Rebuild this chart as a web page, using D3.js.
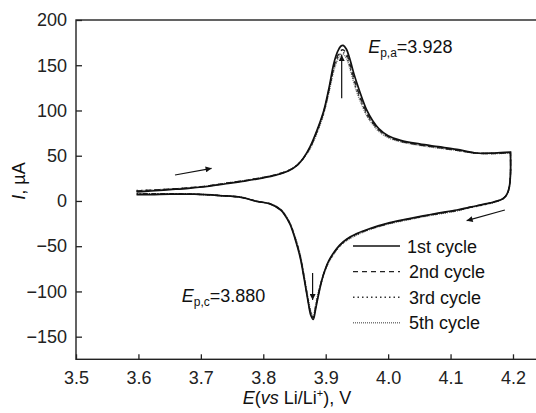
<!DOCTYPE html>
<html>
<head>
<meta charset="utf-8">
<script src="https://cdn.jsdelivr.net/npm/d3@7"></script>
<style>
  body { margin: 0; background: #fff; }
  svg { display: block; }
</style>
</head>
<body>
<svg id="chart" width="536" height="413"></svg>
<script>
// potentials sampled on the anodic (forward) and cathodic (reverse) sweeps, V
const anodicE = [3.597, 3.62, 3.65, 3.68, 3.71, 3.74, 3.77, 3.80, 3.82, 3.84, 3.855, 3.865, 3.875, 3.886, 3.897, 3.905, 3.913, 3.919, 3.924, 3.928, 3.933, 3.939, 3.945, 3.950, 3.958, 3.966, 3.975, 3.985, 4.00, 4.02, 4.05, 4.08, 4.11, 4.14, 4.17, 4.196];
const cathodicE = [4.196, 4.196, 4.194, 4.19, 4.184, 4.17, 4.158, 4.13, 4.11, 4.08, 4.056, 4.03, 4.003, 3.971, 3.95, 3.934, 3.922, 3.913, 3.905, 3.899, 3.894, 3.889, 3.884, 3.880, 3.876, 3.872, 3.866, 3.859, 3.851, 3.843, 3.835, 3.828, 3.81, 3.79, 3.765, 3.73, 3.69, 3.65, 3.62, 3.597];

// current, µA
const cycle1Anodic = [10, 11, 12.5, 14, 16, 19, 22, 25.5, 28.5, 33, 40, 48, 60, 78, 100, 124, 152, 165, 171, 172, 168, 156, 141, 130, 114, 100, 89, 80, 72, 67, 63, 60, 57, 53, 53, 54];
const cycle2Anodic = [11, 12, 13, 14.5, 16.5, 19.5, 22.5, 26, 29, 33.5, 40, 48, 59, 77, 99, 122, 148, 160, 166, 167, 163, 151, 136, 125, 110, 97, 87, 79, 71, 66, 62, 59, 56, 53, 52.5, 53.5];
const cycle3Anodic = [11.5, 12, 13, 14.5, 16.5, 19.5, 22.5, 26, 29, 33.5, 40, 48, 59, 76, 98, 121, 146, 158, 163, 164, 160, 148, 133, 122, 108, 95, 86, 78, 71, 66, 62, 59, 56, 53, 52.5, 53.5];
const cycle5Anodic = [11, 12, 13, 14.5, 16.5, 19.5, 22.5, 26, 29, 33.5, 40, 48, 58, 75, 97, 120, 144, 156, 161, 162, 158, 146, 131, 120, 106, 94, 85, 77, 70, 65.5, 61.5, 58.5, 56, 53, 52.5, 53];

const cycle1Cathodic = [54, 30, 15, 7, 2.5, -1, -3, -7, -10, -13.5, -16.5, -20, -24, -30.5, -36, -42, -49, -57, -66, -76, -87, -102, -119, -131, -126, -112, -88, -62, -42, -26, -16, -10, -3, -0.5, 4, 6, 7.5, 7.5, 7, 7];
const cycle2Cathodic = [53.5, 30, 15, 7, 2.5, -1, -3, -7, -10.5, -14, -17, -20.5, -24.5, -31, -36.5, -42.5, -49.5, -57.5, -66.5, -76, -87, -101, -117, -129, -124, -111, -87, -61, -41, -25.5, -16, -10, -3, -0.5, 4, 6, 7.5, 8, 8, 8];
const cycle3Cathodic = [53.5, 30, 15, 7, 2.5, -1, -3.5, -7.5, -10.5, -14, -17, -20.5, -24.5, -31, -37, -43, -50, -58, -67, -76.5, -87, -100, -116, -128, -123, -110, -86, -60, -40.5, -25, -15.5, -9.5, -3, -0.5, 4, 6, 7.5, 8, 8, 8];
const cycle5Cathodic = [53, 30, 15, 7, 2.5, -1.5, -3.5, -7.5, -11, -14.5, -17.5, -21, -25, -31.5, -37.5, -43.5, -50.5, -58.5, -67.5, -77, -87, -99, -115, -127, -122, -109, -85, -59, -40, -25, -15.5, -9.5, -3, -0.5, 4, 6, 7.5, 8, 8, 8];

const cycleNames = ["1st cycle", "2nd cycle", "3rd cycle", "5th cycle"];
const xTicks = [3.5, 3.6, 3.7, 3.8, 3.9, 4.0, 4.1, 4.2];
const yTicks = [-150, -100, -50, 0, 50, 100, 150, 200];

const cycles = [
  { name: cycleNames[0], anodic: cycle1Anodic, cathodic: cycle1Cathodic, color: "#111", dash: null, w: 1.7 },
  { name: cycleNames[1], anodic: cycle2Anodic, cathodic: cycle2Cathodic, color: "#222", dash: "5,4", w: 1.4 },
  { name: cycleNames[2], anodic: cycle3Anodic, cathodic: cycle3Cathodic, color: "#333", dash: "1.5,3", w: 1.4 },
  { name: cycleNames[3], anodic: cycle5Anodic, cathodic: cycle5Cathodic, color: "#777", dash: "1,1", w: 1.6 },
];

const svg = d3.select("#chart");
const font = "'Liberation Sans', Arial, sans-serif";

const x = d3.scaleLinear().domain([3.5, 4.25]).range([76, 544.2]);
const y = d3.scaleLinear().domain([-175, 200]).range([359.3, 20]);

// frame
svg.append("rect")
  .attr("x", x(3.5)).attr("y", y(200))
  .attr("width", x(4.25) - x(3.5)).attr("height", y(-175) - y(200))
  .attr("fill", "none").attr("stroke", "#222").attr("stroke-width", 1.4);

// axes, ticks pointing inward
const xAxis = svg.append("g")
  .attr("transform", `translate(0,${y(-175)})`)
  .call(d3.axisBottom(x).tickValues(xTicks).tickFormat(d3.format(".1f")).tickSizeInner(-5).tickSizeOuter(0).tickPadding(12));
const yAxis = svg.append("g")
  .attr("transform", `translate(${x(3.5)},0)`)
  .call(d3.axisLeft(y).tickValues(yTicks).tickSizeInner(-6).tickSizeOuter(0).tickPadding(9));

[xAxis, yAxis].forEach(g => {
  g.select(".domain").remove();
  g.selectAll("line").attr("stroke", "#222").attr("stroke-width", 1.3);
  g.selectAll("text").attr("font-family", font).attr("font-size", 18).attr("fill", "#222");
});
xAxis.selectAll("text").attr("dy", "0.71em");

// curves
const line = d3.line()
  .x(d => x(d[0]))
  .y(d => y(d[1]))
  .curve(d3.curveCatmullRom.alpha(0.5));

cycles.slice().reverse().forEach(c => {
  const pts = anodicE.map((e, i) => [e, c.anodic[i]])
    .concat(cathodicE.map((e, i) => [e, c.cathodic[i]]));
  svg.append("path")
    .attr("d", line(pts))
    .attr("fill", "none")
    .attr("stroke", c.color)
    .attr("stroke-width", c.w)
    .attr("stroke-dasharray", c.dash);
});

// scan direction and peak arrows (start/end in E, I)
const arrows = [
  [[3.6586, 28.7], [3.7172, 36.1]],
  [[4.187, -10], [4.1258, -21.8]],
  [[3.9256, 113.5], [3.9256, 161.3]],
  [[3.879, -79.6], [3.879, -109.4]],
];
svg.append("defs").append("marker")
  .attr("id", "head")
  .attr("viewBox", "0 0 10 10")
  .attr("refX", 10).attr("refY", 5)
  .attr("markerWidth", 9).attr("markerHeight", 6)
  .attr("markerUnits", "userSpaceOnUse")
  .attr("orient", "auto")
  .append("path").attr("d", "M0,0L10,5L0,10Z").attr("fill", "#111");

arrows.forEach(a => {
  svg.append("line")
    .attr("x1", x(a[0][0])).attr("y1", y(a[0][1]))
    .attr("x2", x(a[1][0])).attr("y2", y(a[1][1]))
    .attr("stroke", "#111").attr("stroke-width", 1.2)
    .attr("marker-end", "url(#head)");
});

// peak labels
function peakLabel(e, i, sub, value) {
  const t = svg.append("text")
    .attr("x", x(e)).attr("y", y(i))
    .attr("font-family", font).attr("font-size", 18).attr("fill", "#111");
  t.append("tspan").attr("font-style", "italic").text("E");
  t.append("tspan").attr("font-size", 12).attr("dy", 4).text(sub);
  t.append("tspan").attr("dy", -4).text("=" + value);
}
peakLabel(3.968, 163.6, "p,a", "3.928");
peakLabel(3.6693, -112, "p,c", "3.880");

// legend
const legend = svg.append("g").attr("transform", "translate(353,246)");
cycles.forEach((c, k) => {
  const row = legend.append("g").attr("transform", `translate(0,${k * 25.6})`);
  row.append("line")
    .attr("x1", 0).attr("x2", 47).attr("y1", 0).attr("y2", 0)
    .attr("stroke", c.color).attr("stroke-width", c.w)
    .attr("stroke-dasharray", c.dash);
  row.append("text")
    .attr("x", k === 0 ? 54 : 56).attr("y", 6.5)
    .attr("font-family", font).attr("font-size", 18).attr("fill", "#111")
    .text(c.name);
});

// axis titles
const xt = svg.append("text")
  .attr("x", 297).attr("y", 404)
  .attr("text-anchor", "middle")
  .attr("font-family", font).attr("font-size", 18).attr("fill", "#111");
xt.append("tspan").attr("font-style", "italic").text("E");
xt.append("tspan").text("(");
xt.append("tspan").attr("font-style", "italic").text("vs");
xt.append("tspan").text(" Li/Li");
xt.append("tspan").attr("font-size", 11).attr("dy", -7).text("+");
xt.append("tspan").attr("dy", 7).text("), V");

const yt = svg.append("text")
  .attr("transform", "translate(25,181) rotate(-90)")
  .attr("text-anchor", "middle")
  .attr("font-family", font).attr("font-size", 18).attr("fill", "#111");
yt.append("tspan").attr("font-style", "italic").text("I");
yt.append("tspan").text(", µA");
</script>
</body>
</html>
